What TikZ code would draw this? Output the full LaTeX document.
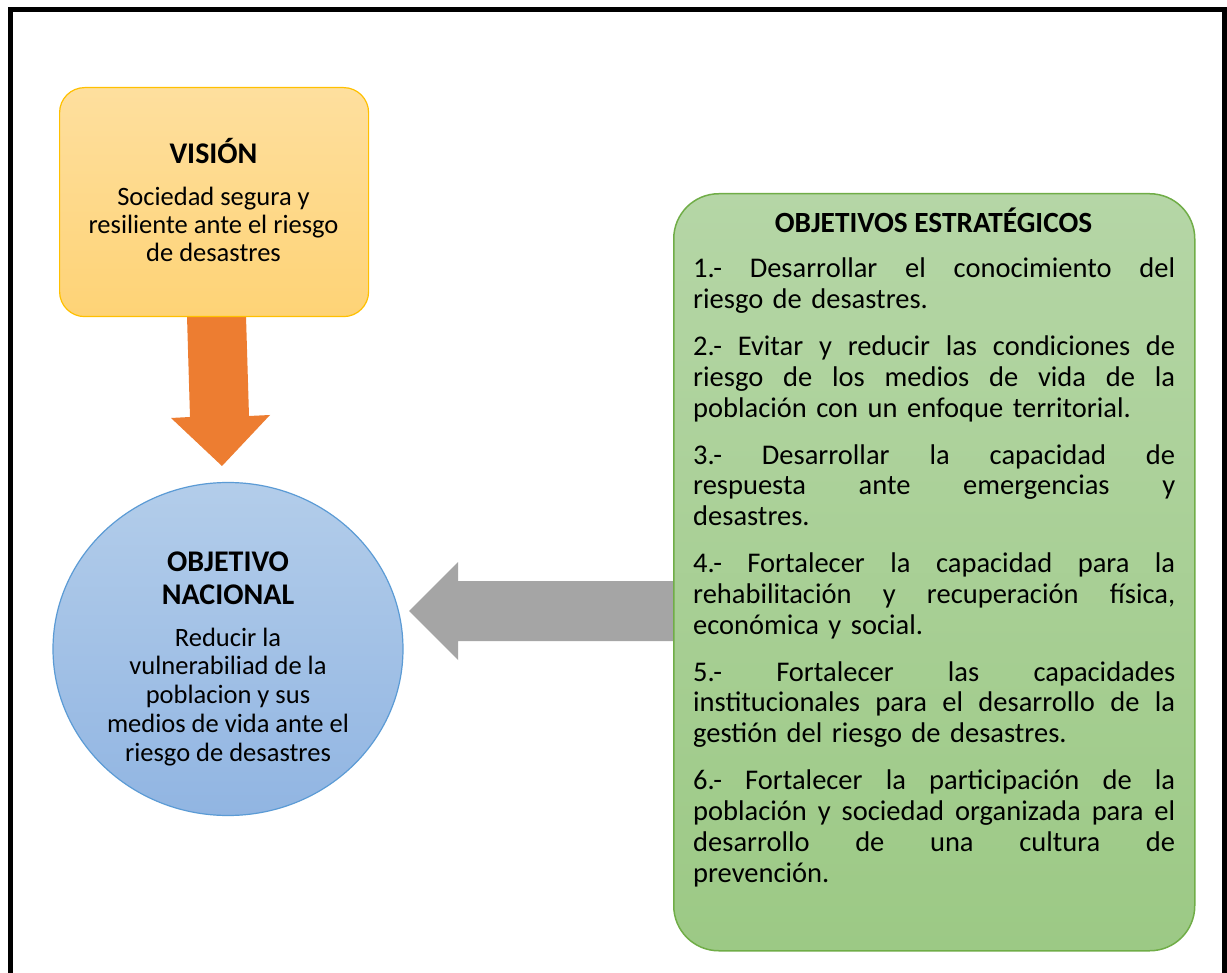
\documentclass[tikz,border=0pt]{standalone}
\usepackage{fontspec}
\setmainfont{Carlito}
\usetikzlibrary{shapes.geometric}
\definecolor{visTop}{HTML}{FEDF9E}
\definecolor{visBot}{HTML}{FED376}
\definecolor{visLine}{HTML}{FFC000}
\definecolor{arrOr}{HTML}{ED7D31}
\definecolor{ellTop}{HTML}{B3CDEA}
\definecolor{ellBot}{HTML}{91B5E2}
\definecolor{ellLine}{HTML}{5B9BD5}
\definecolor{arrGr}{HTML}{A5A5A5}
\definecolor{grnTop}{HTML}{B5D6A6}
\definecolor{grnBot}{HTML}{9CC985}
\definecolor{grnLine}{HTML}{70AD47}
\newcommand{\jl}[1]{\leavevmode\hbox to 482pt{\frenchspacing\spaceskip=0.226em plus 1fil\xspaceskip=0.226em plus 1fil #1}}
\begin{document}
\begin{tikzpicture}[x=1pt,y=-1pt,
  visbox/.style={draw=visLine, line width=1.2pt, top color=visTop, bottom color=visBot, rounded corners=25pt, anchor=north west, inner sep=0pt},
  ellbox/.style={draw=ellLine, line width=1.2pt, top color=ellTop, bottom color=ellBot, ellipse, inner sep=0pt},
  grnbox/.style={draw=grnLine, line width=1.5pt, top color=grnTop, bottom color=grnBot, rounded corners=45pt, anchor=north west, inner sep=0pt},
  titletxt/.style={font=\fontsize{30}{33}\selectfont\bfseries, anchor=base, inner sep=0pt, align=center},
  bodytxt/.style={font=\fontsize{26.5}{28.75}\selectfont, anchor=base, inner sep=0pt, align=center},
  frameline/.style={line width=4.5pt, black}
]
\useasboundingbox (0,0) rectangle (1227,973);
\fill[white] (0,0) rectangle (1227,973);
\draw[frameline] (10.5,985) -- (10.5,9.5) -- (1224.5,9.5) -- (1224.5,985);

% orange arrow
\fill[arrOr] (187,316) -- (246,316) -- (249,416) -- (270,415) -- (222,466) -- (171,418) -- (190,417) -- cycle;

% vision box
\node[visbox, minimum width=309pt, minimum height=229pt] (vision) at (59,87) {};
\node[titletxt] (vtitle) at (213.5,164) {VISIÓN};
\node[bodytxt, font=\fontsize{26.5}{28}\selectfont] (vbody) at (213.5,262) {Sociedad segura y\\resiliente ante el riesgo\\de desastres};

% gray arrow
\fill[arrGr] (673,581) -- (458,581) -- (458,562) -- (409,611) -- (458,660) -- (458,641) -- (673,641) -- cycle;

% objetivo nacional
\node[ellbox, minimum width=350pt, minimum height=333pt] (nacional) at (228,649) {};
\node[titletxt] (ntitle) at (228,604) {OBJETIVO\\NACIONAL};
\node[bodytxt] (nbody) at (228,761) {Reducir la\\vulnerabiliad de la\\poblacion y sus\\medios de vida ante el\\riesgo de desastres};

% objetivos estrategicos
\node[grnbox, minimum width=521pt, minimum height=757pt] (estrat) at (673,193) {};
\node[titletxt, font=\fontsize{29.3}{31}\selectfont\bfseries] (etitle) at (933.5,233) {OBJETIVOS ESTRATÉGICOS};
\node[anchor=base west, inner sep=0pt, text width=482pt, align=left, font=\fontsize{28.5}{30.9}\selectfont] (ebody) at (693,278) {%
\jl{1.- Desarrollar el conocimiento del}\\
riesgo de desastres.\\[15.8pt]
\jl{2.- Evitar y reducir las condiciones de}\\
\jl{riesgo de los medios de vida de la}\\
población con un enfoque territorial.\\[15.8pt]
\jl{3.- Desarrollar la capacidad de}\\
\jl{respuesta ante emergencias y}\\
desastres.\\[15.8pt]
\jl{4.- Fortalecer la capacidad para la}\\
\jl{rehabilitación y recuperación física,}\\
económica y social.\\[15.8pt]
\jl{5.- Fortalecer las capacidades}\\
\jl{institucionales para el desarrollo de la}\\
gestión del riesgo de desastres.\\[15.8pt]
\jl{6.- Fortalecer la participación de la}\\
\jl{población y sociedad organizada para el}\\
\jl{desarrollo de una cultura de}\\
prevención.};
\end{tikzpicture}
\end{document}
